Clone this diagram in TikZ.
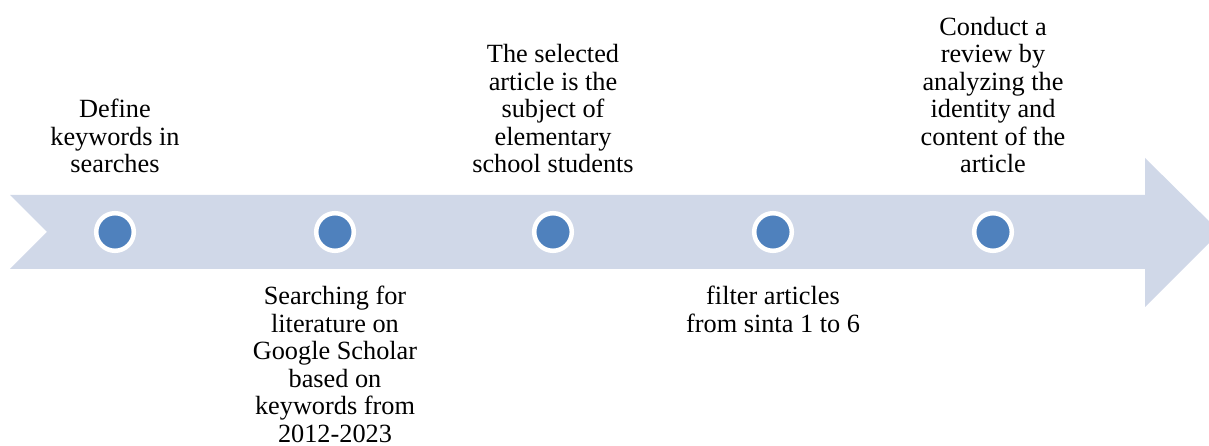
\documentclass[tikz,border=0pt]{standalone}
\usepackage{fontspec}
\setmainfont{Liberation Serif}
\usepackage{xcolor}
\usepackage{tikz}
\definecolor{bandcol}{HTML}{D0D8E8}
\definecolor{dotcol}{HTML}{4F81BD}

\begin{document}
\begin{tikzpicture}[x=0.025cm,y=0.025cm,
	dot/.style={circle,fill=dotcol,draw=white,line width=3.2pt,minimum size=0.94cm,inner sep=0pt},
	lbl/.style={align=center,anchor=base,inner sep=0pt,font=\fontsize{18.7}{19.6}\selectfont}]
			\useasboundingbox (0,0) rectangle (1209,446);
			\clip (0,0) rectangle (1209,446);
			% band arrow
			\fill[bandcol] (10,251) -- (1145,251) -- (1145,288) -- (1220,214)
				-- (1145,139) -- (1145,177) -- (10,177) -- (47,214) -- cycle;
			%
			\node[dot] (D1) at (115,214) {};
			\node[dot] (D2) at (335,214) {};
			\node[dot] (D3) at (553,214) {};
			\node[dot] (D4) at (773,214) {};
			\node[dot] (D5) at (993,214) {};
			%
			\node[lbl] (T1) at (115,273) {Define\\keywords in\\searches};
			\node[lbl] (T2) at (335,3.5) {Searching for\\literature on\\Google Scholar\\based on\\keywords from\\2012-2023};
			\node[lbl] (T3) at (553,273) {The selected\\article is the\\subject of\\elementary\\school students};
			\node[lbl] (T4) at (773,113.5) {filter articles\\from sinta 1 to 6};
			\node[lbl] (T5) at (993,273) {Conduct a\\review by\\analyzing the\\identity and\\content of the\\article};
		\end{tikzpicture}
\end{document}
